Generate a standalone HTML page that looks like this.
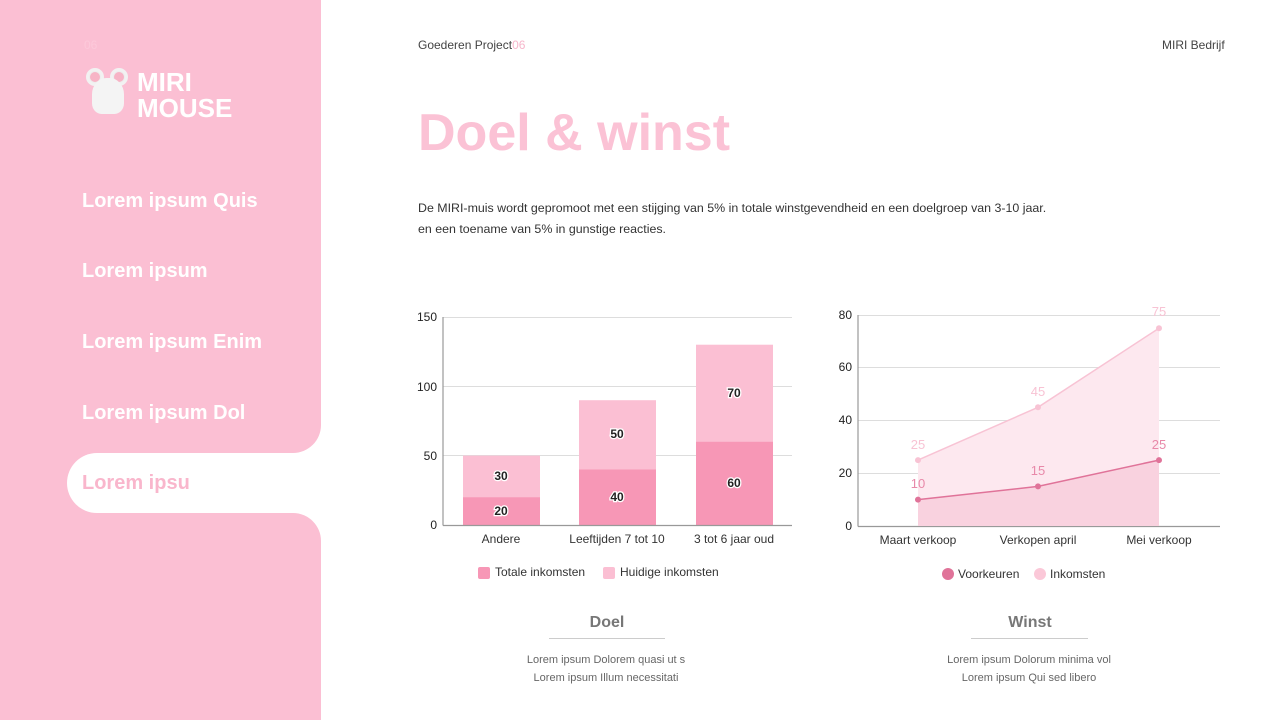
<!DOCTYPE html>
<html><head><meta charset="utf-8"><style>
*{margin:0;padding:0;box-sizing:border-box}
body{width:1280px;height:720px;background:#fff;position:relative;overflow:hidden;font-family:"Liberation Sans",sans-serif}
.a{position:absolute}
.nav{position:absolute;left:82px;color:#fff;font-weight:bold;font-size:20px}
</style></head><body>
<div class="a" style="left:0;top:0;width:321px;height:720px;background:#fbbfd3"></div>
<div class="a" style="left:290px;top:420px;width:31px;height:130px;background:#fff"></div>
<div class="a" style="left:0;top:0;width:321px;height:453px;background:#fbbfd3;border-bottom-right-radius:28px"></div>
<div class="a" style="left:0;top:513px;width:321px;height:207px;background:#fbbfd3;border-top-right-radius:28px"></div>
<div class="a" style="left:0;top:453px;width:67px;height:60px;background:#fbbfd3"></div>
<div class="a" style="left:67px;top:453px;width:270px;height:60px;background:#fff;border-radius:30px 0 0 30px"></div>
<div class="a" style="left:84px;top:38px;font-size:12px;color:#fcc9da">06</div>
<div class="a" style="left:86px;top:68px;width:46px;height:50px;">
<div class="a" style="left:0;top:0;width:18px;height:18px;border-radius:50%;background:#eee;border:3px solid #f2f2f2"><div style="width:10px;height:10px;border-radius:50%;background:#f7b4c6;margin:1px"></div></div>
<div class="a" style="left:24px;top:0;width:18px;height:18px;border-radius:50%;background:#eee;border:3px solid #f2f2f2"><div style="width:10px;height:10px;border-radius:50%;background:#f7b4c6;margin:1px"></div></div>
<div class="a" style="left:6px;top:10px;width:32px;height:36px;border-radius:45% 45% 30% 30%;background:#f4f4f4"></div>
</div>
<div class="a" style="left:137px;top:69px;color:#fff;font-weight:bold;font-size:26px;line-height:26px">MIRI<br>MOUSE</div>
<div class="nav" style="top:190px">Lorem ipsum Quis</div>
<div class="nav" style="top:260px">Lorem ipsum</div>
<div class="nav" style="top:331px">Lorem ipsum Enim</div>
<div class="nav" style="top:402px">Lorem ipsum Dol</div>
<div class="nav" style="top:472px;color:#f9b6cc">Lorem ipsu</div>

<div class="a" style="left:418px;top:38px;font-size:12px;color:#444">Goederen Project<span style="color:#f7b6cb">06</span></div>
<div class="a" style="left:1162px;top:38px;font-size:12px;color:#444">MIRI Bedrijf</div>
<div class="a" style="left:418px;top:103px;font-size:52px;font-weight:bold;color:#fbc2d5">Doel &amp; winst</div>
<div class="a" style="left:418px;top:198px;font-size:12.4px;color:#333;line-height:21px">De MIRI-muis wordt gepromoot met een stijging van 5% in totale winstgevendheid en een doelgroep van 3-10 jaar.<br>en een toename van 5% in gunstige reacties.</div>

<svg class="a" style="left:0;top:0" width="1280" height="720" font-family="Liberation Sans, sans-serif">
<g stroke="#ddd" stroke-width="1">
<line x1="443" y1="317.5" x2="792" y2="317.5"/><line x1="443" y1="386.5" x2="792" y2="386.5"/><line x1="443" y1="455.5" x2="792" y2="455.5"/>
<line x1="858" y1="315.5" x2="1220" y2="315.5"/><line x1="858" y1="367.5" x2="1220" y2="367.5"/><line x1="858" y1="420.5" x2="1220" y2="420.5"/><line x1="858" y1="473.5" x2="1220" y2="473.5"/>
</g>
<g fill="#fbbfd3">
<rect x="463" y="455.6" width="77" height="69.4"/><rect x="579" y="400.2" width="77" height="124.8"/><rect x="696" y="344.7" width="77" height="180.3"/></g>
<g fill="#f797b6">
<rect x="463" y="497.3" width="77" height="27.7"/><rect x="579" y="469.5" width="77" height="55.5"/><rect x="696" y="441.8" width="77" height="83.2"/></g>
<g stroke="#999" stroke-width="1.2"><line x1="443" y1="317" x2="443" y2="525.5"/><line x1="443" y1="525.5" x2="792" y2="525.5"/>
<line x1="858" y1="315" x2="858" y2="526.5"/><line x1="858" y1="526.5" x2="1220" y2="526.5"/></g>
<g font-size="12" fill="#222" text-anchor="end">
<text x="437" y="321">150</text><text x="437" y="391">100</text><text x="437" y="460">50</text><text x="437" y="529">0</text>
<text x="852" y="319">80</text><text x="852" y="371">60</text><text x="852" y="424">40</text><text x="852" y="477">20</text><text x="852" y="530">0</text></g>
<g font-size="12" fill="#222" text-anchor="middle" font-weight="bold" stroke="#fff" stroke-width="2.5" paint-order="stroke">
<text x="501" y="515">20</text><text x="501" y="480">30</text><text x="617" y="501">40</text><text x="617" y="438">50</text><text x="734" y="487">60</text><text x="734" y="397">70</text></g>
<g font-size="12" fill="#333" text-anchor="middle">
<text x="501" y="543">Andere</text><text x="617" y="543">Leeftijden 7 tot 10</text><text x="734" y="543">3 tot 6 jaar oud</text>
<text x="918" y="544">Maart verkoop</text><text x="1038" y="544">Verkopen april</text><text x="1159" y="544">Mei verkoop</text></g>
<rect x="478" y="567" width="12" height="12" rx="2" fill="#f797b6"/><text x="495" y="576" font-size="12" fill="#333">Totale inkomsten</text>
<rect x="603" y="567" width="12" height="12" rx="2" fill="#fbbfd3"/><text x="620" y="576" font-size="12" fill="#333">Huidige inkomsten</text>
<polygon points="918,526 918,460.1 1038,407.3 1159,328.2 1159,526" fill="#fde8ef"/>
<polygon points="918,526 918,499.6 1038,486.4 1159,460.1 1159,526" fill="#f9d2df"/>
<polyline points="918,460.1 1038,407.3 1159,328.2" fill="none" stroke="#f8c3d4" stroke-width="1.5"/>
<polyline points="918,499.6 1038,486.4 1159,460.1" fill="none" stroke="#e07399" stroke-width="1.5"/>
<g fill="#f8c3d4"><circle cx="918" cy="460.1" r="3"/><circle cx="1038" cy="407.3" r="3"/><circle cx="1159" cy="328.2" r="3"/></g>
<g fill="#e07399"><circle cx="918" cy="499.6" r="3"/><circle cx="1038" cy="486.4" r="3"/><circle cx="1159" cy="460.1" r="3"/></g>
<g font-size="13" text-anchor="middle" fill="#f8c3d4"><text x="918" y="449">25</text><text x="1038" y="396">45</text><text x="1159" y="316">75</text></g>
<g font-size="13" text-anchor="middle" fill="#e889a9"><text x="918" y="488">10</text><text x="1038" y="475">15</text><text x="1159" y="449">25</text></g>
<circle cx="948" cy="574" r="6" fill="#e07399"/><text x="958" y="578" font-size="12" fill="#333">Voorkeuren</text>
<circle cx="1040" cy="574" r="6" fill="#fbc8d8"/><text x="1050" y="578" font-size="12" fill="#333">Inkomsten</text>
<line x1="549" y1="638.5" x2="665" y2="638.5" stroke="#ccc"/><line x1="971" y1="638.5" x2="1088" y2="638.5" stroke="#ccc"/>
<g text-anchor="middle"><text x="607" y="627" font-size="16" font-weight="bold" fill="#777">Doel</text>
<text x="1030" y="627" font-size="16" font-weight="bold" fill="#777">Winst</text>
<g font-size="11" fill="#666"><text x="606" y="663">Lorem ipsum Dolorem quasi ut s</text><text x="606" y="681">Lorem ipsum Illum necessitati</text>
<text x="1029" y="663">Lorem ipsum Dolorum minima vol</text><text x="1029" y="681">Lorem ipsum Qui sed libero</text></g></g>
</svg>
</body></html>
